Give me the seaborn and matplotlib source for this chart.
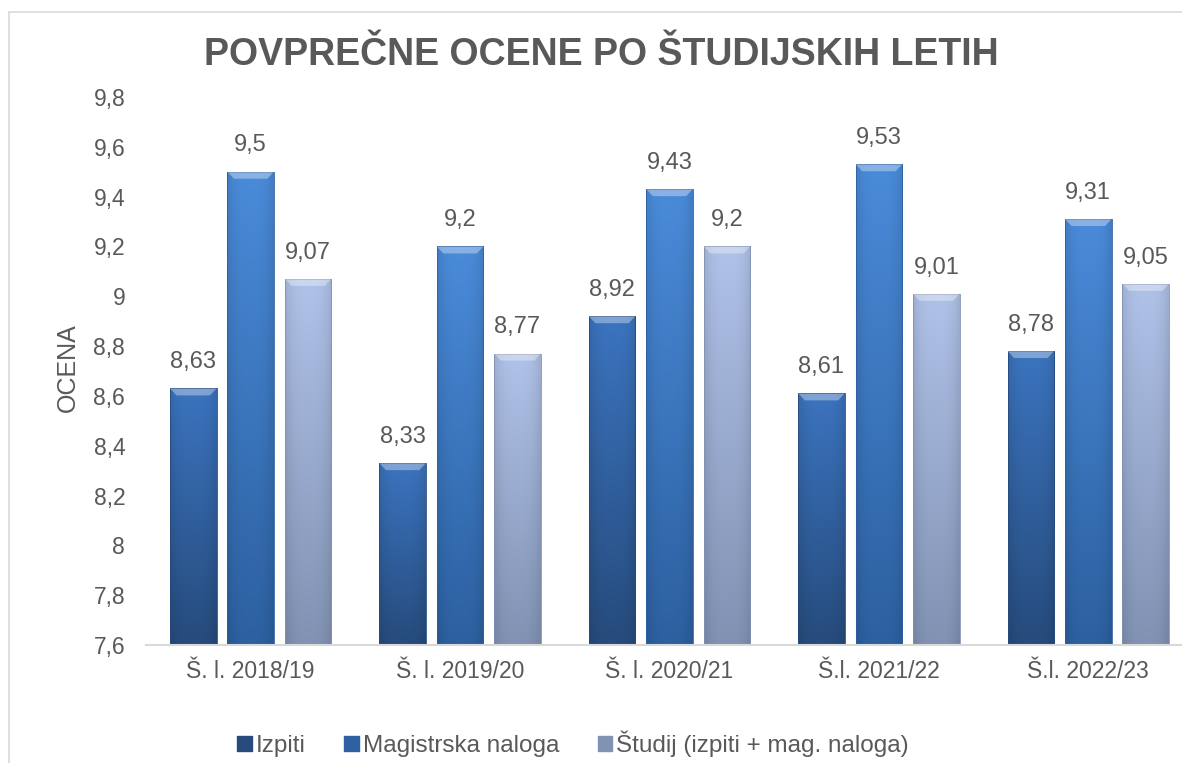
import numpy as np
import pandas as pd
import matplotlib
matplotlib.use('Agg')
import matplotlib.pyplot as plt
import matplotlib.colors as mcolors
from matplotlib.patches import Patch, Polygon
from matplotlib.ticker import FuncFormatter, FixedLocator
import seaborn as sns

# --- DATA ---
YEARS   = ['Š. l. 2018/19', 'Š. l. 2019/20', 'Š. l. 2020/21', 'Š.l. 2021/22', 'Š.l. 2022/23']
SERIES  = ['Izpiti', 'Magistrska naloga', 'Študij (izpiti + mag. naloga)']
izpiti  = [8.63, 8.33, 8.92, 8.61, 8.78]
magistr = [9.5, 9.2, 9.43, 9.53, 9.31]
studij  = [9.07, 8.77, 9.2, 9.01, 9.05]

# gradient (top, bottom) per series
GRAD = {
    'Izpiti': ('#3B74BF', '#264B7C'),
    'Magistrska naloga': ('#4A8BD9', '#2C60A0'),
    'Študij (izpiti + mag. naloga)': ('#AFC2E8', '#8192B3'),
}
TXT = '#595959'
LINE = '#D9D9D9'

df = pd.DataFrame({
    'leto': YEARS * 3,
    'serija': [s for s in SERIES for _ in YEARS],
    'ocena': izpiti + magistr + studij,
})

def fmt(v):
    return ('%g' % round(v, 2)).replace('.', ',')

sns.set_style('white')
plt.rcParams['font.family'] = ['Liberation Sans', 'DejaVu Sans']

W, H = 1182, 763
fig = plt.figure(figsize=(W / 100, H / 100), dpi=100)
ax = fig.add_axes([146 / W, (H - 645) / H, 1047 / W, (645 - 97) / H])

pal = {s: GRAD[s][0] for s in SERIES}
sns.barplot(data=df, x='leto', y='ocena', hue='serija', hue_order=SERIES, order=YEARS,
            palette=pal, width=0.823, gap=0.19, legend=False, ax=ax, zorder=2)

ax.set_ylim(7.6, 9.8)
ax.set_xlim(-0.5, 4.5)

# gradient fill + bevel on every bar
for cont, s in zip(ax.containers, SERIES):
    top_c = np.array(mcolors.to_rgb(GRAD[s][0]))
    bot_c = np.array(mcolors.to_rgb(GRAD[s][1]))
    t = np.linspace(0, 1, 200)[:, None]
    col = top_c * (1 - t) + bot_c * t
    hx = np.linspace(-1, 1, 40)[None, :]
    shade = 1 - 0.10 * np.abs(hx) ** 3
    img = col[:, None, :] * shade[:, :, None]
    for bar in cont:
        x, w, v = bar.get_x(), bar.get_width(), bar.get_height()
        bar.set_facecolor('none')
        bar.set_edgecolor(GRAD[s][1])
        bar.set_linewidth(0.6)
        im = ax.imshow(img, extent=(x, x + w, 7.6, v), aspect='auto', zorder=1.5,
                       interpolation='bilinear')
        im.set_clip_path(bar)
        # light bevel cap
        dy = 0.028
        inset = w * 0.14
        cap = Polygon([[x, v], [x + w, v], [x + w - inset, v - dy], [x + inset, v - dy]],
                      closed=True, facecolor=mcolors.to_rgba('white', 0.35),
                      edgecolor='none', zorder=2.5)
        ax.add_patch(cap)
        ax.annotate(fmt(v), (x + w / 2, v), xytext=(0, 11), textcoords='offset points',
                    ha='center', va='bottom', fontsize=17, color=TXT)

ax.set_ylim(7.6, 9.8)
ax.set_xlim(-0.5, 4.5)

ax.set_yticks(np.arange(7.6, 9.81, 0.2))
ax.yaxis.set_major_formatter(FuncFormatter(lambda v, p: fmt(v)))
ax.tick_params(axis='y', length=0, labelsize=16.5, labelcolor=TXT, pad=15)
ax.tick_params(axis='x', which='major', length=0, labelsize=16.5, labelcolor=TXT, pad=11)
ax.xaxis.set_minor_locator(FixedLocator(np.arange(-0.5, 4.6, 1.0)))
ax.tick_params(axis='x', which='minor', length=6, color=LINE, width=1.2, direction='out')

for sp in ['left', 'right', 'top']:
    ax.spines[sp].set_visible(False)
ax.spines['bottom'].set_color(LINE)
ax.spines['bottom'].set_linewidth(1.5)
ax.set_xlabel('')
ax.set_ylabel('')

fig.text(68 / W, 1 - 368 / H, 'OCENA', rotation=90, ha='center', va='center',
         fontsize=18, color=TXT)
fig.text(601 / W, 1 - 55 / H, 'POVPREČNE OCENE PO ŠTUDIJSKIH LETIH', ha='center',
         va='center', fontsize=27, fontweight='bold', color=TXT)

# outer frame (top and left)
fig.add_artist(plt.Line2D([9 / W, 1], [1 - 12 / H, 1 - 12 / H], color=LINE, lw=1.2,
                          transform=fig.transFigure))
fig.add_artist(plt.Line2D([9 / W, 9 / W], [0, 1 - 12 / H], color=LINE, lw=1.2,
                          transform=fig.transFigure))

handles = [Patch(facecolor=GRAD[s][1], edgecolor=GRAD[s][1]) for s in SERIES]
fig.legend(handles, SERIES, loc='center', bbox_to_anchor=(573 / W, 1 - 744 / H), ncol=3,
           frameon=False, fontsize=17.5, labelcolor=TXT, handlelength=0.6, handleheight=0.6,
           handletextpad=0.15, columnspacing=1.6)

fig.savefig('out.png', dpi=100, facecolor='white')
